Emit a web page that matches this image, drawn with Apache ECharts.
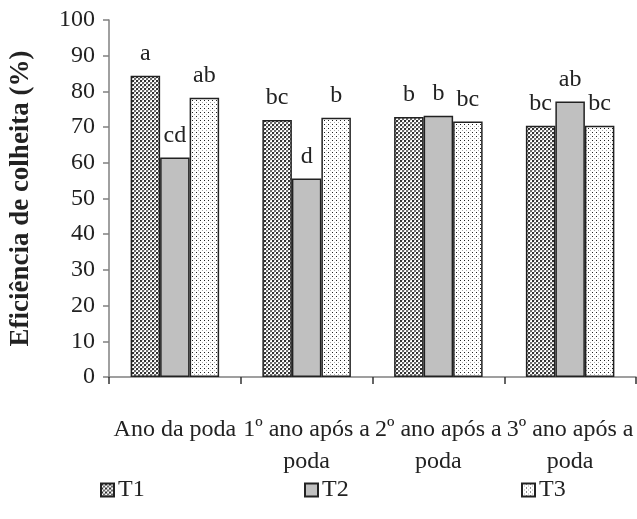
<!DOCTYPE html>
<html>
<head>
<meta charset="utf-8">
<script src="https://cdn.jsdelivr.net/npm/echarts@6/dist/echarts.min.js"></script>
<style>html,body{margin:0;padding:0;background:#fff}#c{width:637px;height:519px}</style>
</head>
<body>
<div id="c"></div>
<script>
const categories = ['Ano da poda', '1º ano após a\npoda', '2º ano após a\npoda', '3º ano após a\npoda'];
const seriesNames = ['T1', 'T2', 'T3'];
const t1Values = [84.4, 72.0, 72.8, 70.4];
const t2Values = [61.5, 55.6, 73.2, 77.2];
const t3Values = [78.2, 72.6, 71.6, 70.4];
const t1Letters = ['a', 'bc', 'b', 'bc'];
const t2Letters = ['cd', 'd', 'b', 'ab'];
const t3Letters = ['ab', 'b', 'bc', 'bc'];
const yTicks = [0, 10, 20, 30, 40, 50, 60, 70, 80, 90, 100];

function makeTile(draw, w, h) {
  const c = document.createElement('canvas');
  c.width = w; c.height = h;
  const g = c.getContext('2d');
  g.fillStyle = '#fff'; g.fillRect(0, 0, w, h);
  draw(g);
  return c;
}
const crossTile = makeTile(g => {
  g.fillStyle = '#333';
  g.fillRect(0, 0, 2, 2);
  g.fillStyle = '#6a6a6a';
  g.fillRect(2, 2, 2, 2);
  g.fillStyle = '#d0d0d0';
  g.fillRect(2, 0, 1, 1);
  g.fillRect(0, 2, 1, 1);
}, 4, 4);
const dotTile = makeTile(g => {
  g.fillStyle = '#222';
  g.fillRect(0, 0, 1, 1);
  g.fillStyle = '#aaa';
  g.fillRect(2, 2, 1, 1);
}, 4, 4);

const fills = [
  {image: crossTile, repeat: 'repeat'},
  '#c0c0c0',
  {image: dotTile, repeat: 'repeat'}
];
const values = [t1Values, t2Values, t3Values];
const letters = [t1Letters, t2Letters, t3Letters];
const FONT = 'Liberation Serif';

const chart = echarts.init(document.getElementById('c'), null, {renderer: 'canvas'});
chart.setOption({
  animation: false,
  backgroundColor: '#fff',
  textStyle: {fontFamily: FONT},
  grid: {left: 108, right: 1, top: 20, bottom: 142},
  legend: seriesNames.map((n, i) => ({
    data: [n],
    left: [95, 299, 516][i],
    top: 473,
    icon: 'rect',
    itemWidth: 13,
    itemHeight: 13,
    itemGap: 4,
    textStyle: {fontFamily: FONT, fontSize: 24, color: '#222', padding: [0, 0, 0, -1]}
  })),
  xAxis: {
    type: 'category',
    data: categories,
    axisLine: {lineStyle: {color: '#808080', width: 1.5}},
    axisTick: {show: true, length: 7, lineStyle: {color: '#333', width: 1.5}},
    axisLabel: {fontFamily: FONT, fontSize: 24, color: '#222', margin: 37, lineHeight: 32, interval: 0}
  },
  yAxis: {
    type: 'value',
    min: yTicks[0],
    max: yTicks[yTicks.length - 1],
    interval: 10,
    name: 'Eficiência de colheita (%)',
    nameLocation: 'middle',
    nameGap: 74,
    nameTextStyle: {fontFamily: FONT, fontSize: 27, fontWeight: 'bold', color: '#222'},
    axisLine: {show: true, lineStyle: {color: '#808080', width: 1.5}},
    axisTick: {show: true, length: 6, lineStyle: {color: '#808080', width: 1.5}},
    splitLine: {show: false},
    axisLabel: {fontFamily: FONT, fontSize: 24, color: '#222', margin: 14}
  },
  series: seriesNames.map((n, i) => ({
    name: n,
    type: 'bar',
    data: values[i],
    barWidth: 29.5,
    barGap: '0%',
    itemStyle: {color: fills[i], borderColor: '#222', borderWidth: 1.5},
    label: {
      show: true,
      position: 'top',
      distance: 10,
      fontFamily: FONT,
      fontSize: 24,
      color: '#222',
      formatter: p => letters[i][p.dataIndex]
    }
  }))
});
</script>
</body>
</html>
